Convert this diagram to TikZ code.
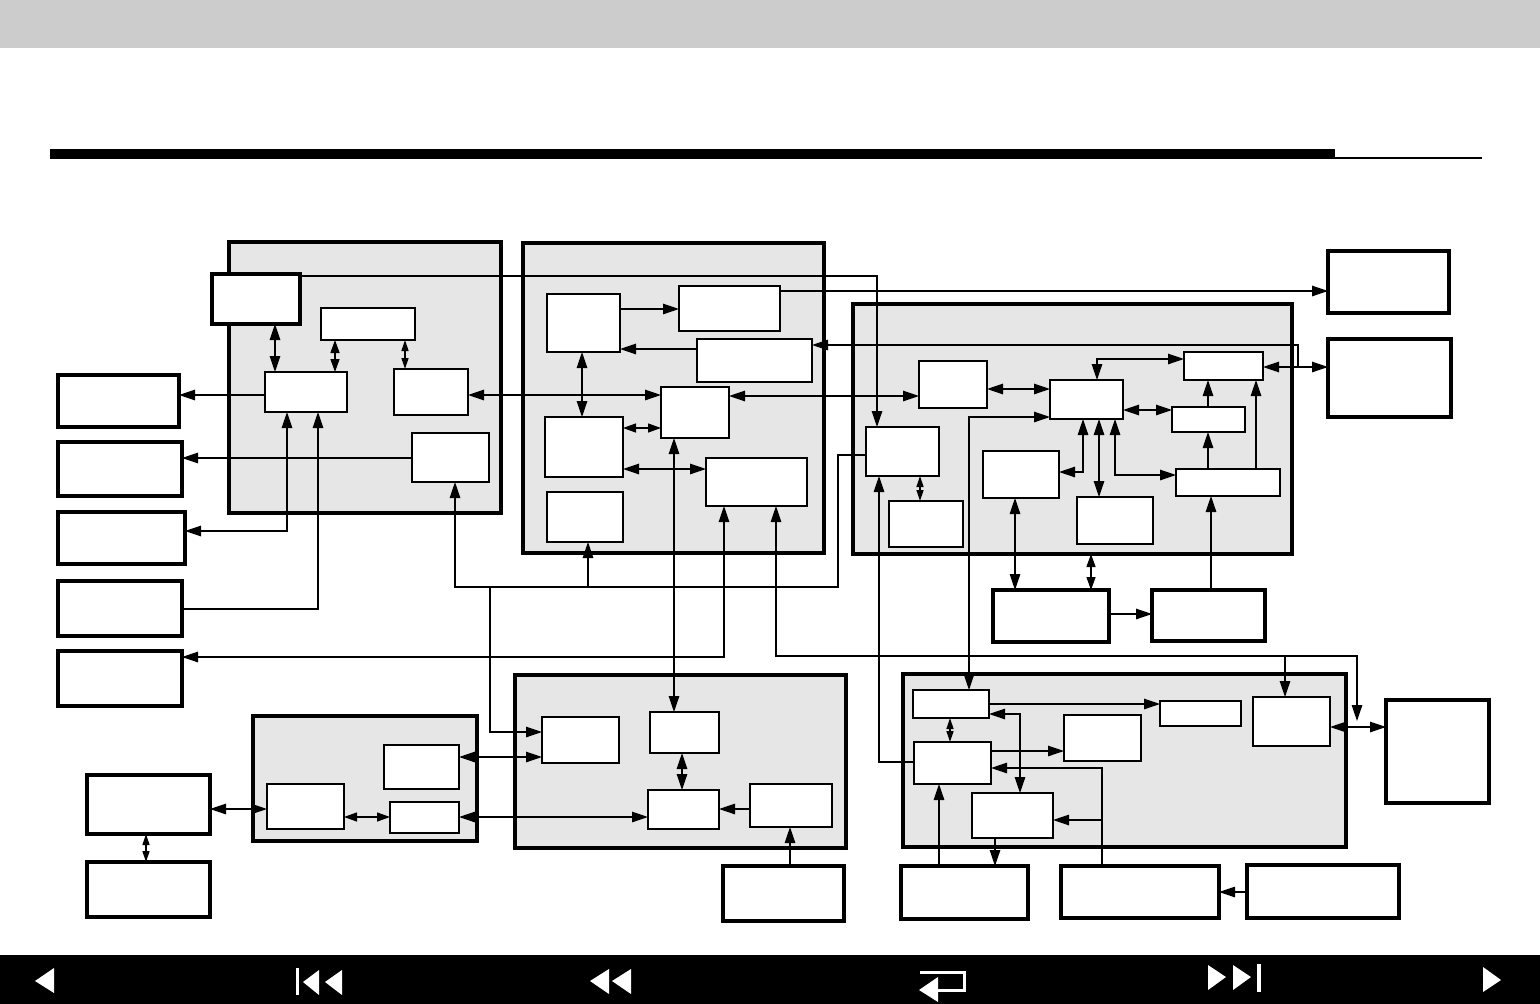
\documentclass[tikz,border=0pt]{standalone}
\usetikzlibrary{arrows.meta}
\definecolor{grp}{RGB}{230,230,230}
\definecolor{band}{RGB}{204,204,204}
\newcommand\bx[6]{\node[#1, anchor=north west, minimum width={(#5-#3)*1pt}, minimum height={(#6-#4)*1pt}] (#2) at (#3,#4) {};}
\tikzset{
  thinbox/.style={draw, fill=white, line width=1.4pt, inner sep=0pt, outer sep=0pt},
  thickbox/.style={draw, fill=white, line width=3.2pt, inner sep=0pt, outer sep=0pt},
  groupbox/.style={draw, fill=grp, line width=3.5pt, inner sep=0pt, outer sep=0pt},
  ln/.style={line width=1.3pt},
  a/.style={ln, -{Triangle[length=16pt,width=10.5pt]}},
  da/.style={ln, {Triangle[length=16pt,width=10.5pt]}-{Triangle[length=16pt,width=10.5pt]}},
  mda/.style={ln, {Triangle[length=13pt,width=9pt]}-{Triangle[length=13pt,width=9pt]}},
  sda/.style={ln, {Triangle[length=11pt,width=7pt]}-{Triangle[length=11pt,width=7pt]}},
  navicon/.style={fill=white, draw=none}
}
\begin{document}
\begin{tikzpicture}[x=1pt,y=-1pt]
\useasboundingbox (0,0) rectangle (1540,1004);
\fill[white] (0,0) rectangle (1540,1004);
% top band and title rule
\fill[band] (0,0) rectangle (1540,48);
\fill[black] (50,149) rectangle (1335,159);
\fill[black] (1335,157) rectangle (1482,159);
% bottom navigation bar
\fill[black] (0,955) rectangle (1540,1004);
\fill[navicon] (35,981) -- (54,968) -- (54,993) -- cycle;
\fill[navicon] (296,968) rectangle (299,995);
\fill[navicon] (303,982) -- (319,970) -- (319,995) -- cycle;
\fill[navicon] (325,982) -- (342,970) -- (342,995) -- cycle;
\fill[navicon] (590,981) -- (609,969) -- (609,994) -- cycle;
\fill[navicon] (612,981) -- (631,969) -- (631,994) -- cycle;
\draw[white, line width=3pt] (920,972) -- (964.5,972) -- (964.5,990) -- (936,990);
\fill[navicon] (919,990) -- (938,977) -- (938,1002) -- cycle;
\fill[navicon] (1226,977) -- (1208,965) -- (1208,990) -- cycle;
\fill[navicon] (1251,977) -- (1233,965) -- (1233,990) -- cycle;
\fill[navicon] (1257,964) rectangle (1261,992);
\fill[navicon] (1501,980) -- (1483,967) -- (1483,992) -- cycle;

% groups
\bx{groupbox}{GA}{229}{242}{501}{513}
\bx{groupbox}{GB}{523}{243}{824}{553}
\bx{groupbox}{GC}{853}{304}{1292}{554}
\bx{groupbox}{GD}{515}{675}{846}{848}
\bx{groupbox}{GK}{253}{716}{477}{841}
\bx{groupbox}{GE}{903}{674}{1346}{847}

% outer boxes
\bx{thickbox}{A1}{212}{274}{300}{324}
\bx{thickbox}{R1}{1328}{251}{1449}{313}
\bx{thickbox}{R2}{1328}{339}{1451}{417}
\bx{thickbox}{R3}{1386}{700}{1489}{803}
\bx{thickbox}{L1}{58}{375}{179}{427}
\bx{thickbox}{L2}{58}{442}{182}{496}
\bx{thickbox}{L3}{58}{512}{185}{564}
\bx{thickbox}{L4}{58}{581}{182}{636}
\bx{thickbox}{L5}{58}{651}{182}{706}
\bx{thickbox}{M1}{87}{775}{210}{834}
\bx{thickbox}{M2}{87}{862}{210}{917}
\bx{thickbox}{H1}{723}{866}{844}{921}
\bx{thickbox}{F1}{901}{866}{1028}{919}
\bx{thickbox}{F2}{1061}{866}{1219}{918}
\bx{thickbox}{F3}{1247}{865}{1399}{918}
\bx{thickbox}{G1}{993}{590}{1109}{642}
\bx{thickbox}{G2}{1152}{590}{1265}{641}

% inner boxes
\bx{thinbox}{A2}{321}{308}{415}{340}
\bx{thinbox}{A3}{265}{372}{347}{412}
\bx{thinbox}{A4}{394}{369}{468}{415}
\bx{thinbox}{A5}{412}{433}{489}{482}
\bx{thinbox}{B1}{547}{294}{620}{352}
\bx{thinbox}{B2}{679}{286}{780}{331}
\bx{thinbox}{B3}{697}{339}{812}{382}
\bx{thinbox}{B4}{661}{387}{729}{438}
\bx{thinbox}{B5}{545}{417}{623}{477}
\bx{thinbox}{B6}{706}{458}{807}{506}
\bx{thinbox}{B7}{547}{492}{623}{542}
\bx{thinbox}{C1}{919}{361}{987}{408}
\bx{thinbox}{C2}{889}{501}{963}{547}
\bx{thinbox}{C3}{866}{427}{939}{476}
\bx{thinbox}{C4}{983}{451}{1059}{498}
\bx{thinbox}{C5}{1050}{380}{1123}{419}
\bx{thinbox}{C6}{1077}{497}{1153}{544}
\bx{thinbox}{C7}{1184}{352}{1263}{380}
\bx{thinbox}{C8}{1176}{469}{1280}{496}
\bx{thinbox}{C9}{1172}{407}{1245}{432}
\bx{thinbox}{D1}{542}{717}{619}{763}
\bx{thinbox}{D2}{650}{712}{719}{753}
\bx{thinbox}{D3}{648}{790}{719}{829}
\bx{thinbox}{D4}{750}{784}{832}{827}
\bx{thinbox}{E1}{913}{690}{989}{718}
\bx{thinbox}{E2}{914}{742}{991}{784}
\bx{thinbox}{E3}{1064}{715}{1141}{761}
\bx{thinbox}{E4}{1160}{701}{1241}{726}
\bx{thinbox}{E5}{972}{793}{1053}{838}
\bx{thinbox}{E7}{1253}{697}{1330}{746}
\bx{thinbox}{K1}{267}{784}{344}{829}
\bx{thinbox}{K2}{384}{745}{459}{789}
\bx{thinbox}{K3}{390}{802}{459}{833}

% connectors: group A and left
\draw[da] (A1.south -| 275,0) -- (A3.north -| 275,0);
\draw[mda] (A2.south -| 335,0) -- (A3.north -| 335,0);
\draw[sda] (A2.south -| 405,0) -- (A4.north -| 405,0);
\draw[a] (A3.west |- 0,395) -- (L1.east |- 0,395);
\draw[da] (A4.east |- 0,395) -- (B4.west |- 0,395);
\draw[a] (A5.west |- 0,458) -- (L2.east |- 0,458);
\draw[da] (L3.east |- 0,531) -| (A3.south -| 287,0);
\draw[a] (L4.east |- 0,609) -| (A3.south -| 318,0);
% bus from C3
\draw[a] (C3.west |- 0,455) -| (838,587) -| (A5.south -| 455,0);
\draw[a] (588,587) -- (B7.south -| 588,0);
\draw[a] (490,587) |- (D1.west |- 0,732);
\draw[a] (A1.east |- 0,276) -| (C3.north -| 877,0);
% group B
\draw[a] (B1.east |- 0,309) -- (B2.west |- 0,309);
\draw[a] (B3.west |- 0,349) -- (B1.east |- 0,349);
\draw[da] (B1.south -| 582,0) -- (B5.north -| 582,0);
\draw[mda] (B5.east |- 0,428) -- (B4.west |- 0,428);
\draw[da] (B5.east |- 0,469) -- (B6.west |- 0,469);
\draw[da] (B4.east |- 0,396) -- (C1.west |- 0,396);
\draw[a] (B2.east |- 0,291) -- (R1.west |- 0,291);
\draw[da] (C7.east |- 0,367) -- (R2.west |- 0,367);
\draw[a] (1298,367) |- (B3.east |- 0,345);
\draw[da] (B4.south -| 674,0) -- (D2.north -| 674,0);
\draw[da] (B6.south -| 724,0) |- (L5.east |- 0,657);
\draw[da] (B6.south -| 776,0) |- (1357,656) -- (1357,721);
\draw[a] (1285,656) -- (E7.north -| 1285,0);
% group C
\draw[da] (C1.east |- 0,389) -- (C5.west |- 0,389);
\draw[da] (C5.north -| 1097,0) |- (C7.west |- 0,359);
\draw[da] (C5.east |- 0,410) -- (C9.west |- 0,410);
\draw[a] (C9.north -| 1208,0) -- (C7.south -| 1208,0);
\draw[a] (C8.north -| 1208,0) -- (C9.south -| 1208,0);
\draw[a] (C8.north -| 1256,0) -- (C7.south -| 1256,0);
\draw[da] (C5.south -| 1083,0) |- (C4.east |- 0,472);
\draw[da] (C5.south -| 1099,0) -- (C6.north -| 1099,0);
\draw[da] (C5.south -| 1115,0) |- (C8.west |- 0,475);
\draw[sda] (C3.south -| 920,0) -- (C2.north -| 920,0);
\draw[da] (C4.south -| 1015,0) -- (G1.north -| 1015,0);
\draw[mda] (GC.south -| 1091,0) -- (G1.north -| 1091,0);
\draw[a] (G2.north -| 1211,0) -- (C8.south -| 1211,0);
\draw[a] (G1.east |- 0,614) -- (G2.west |- 0,614);
\draw[da] (C5.west |- 0,417) -| (E1.north -| 969,0);
\draw[a] (E2.west |- 0,762) -| (C3.south -| 879,0);
% group E
\draw[a] (E1.east |- 0,704) -- (E4.west |- 0,704);
\draw[sda] (E1.south -| 950,0) -- (E2.north -| 950,0);
\draw[a] (E2.east |- 0,751) -- (E3.west |- 0,751);
\draw[da] (E1.east |- 0,714) -| (E5.north -| 1020,0);
\draw[a] (F2.north -| 1102,0) |- (E2.east |- 0,768);
\draw[a] (1102,820) -- (E5.east |- 0,820);
\draw[a] (E5.south -| 995,0) -- (F1.north -| 995,0);
\draw[a] (F1.north -| 939,0) -- (E2.south -| 939,0);
\draw[a] (F3.west |- 0,892) -- (F2.east |- 0,892);
\draw[da] (E7.east |- 0,727) -- (R3.west |- 0,727);
% group D and K
\draw[da] (K2.east |- 0,757) -- (D1.west |- 0,757);
\draw[da] (D2.south -| 682,0) -- (D3.north -| 682,0);
\draw[a] (D4.west |- 0,809) -- (D3.east |- 0,809);
\draw[a] (H1.north -| 790,0) -- (D4.south -| 790,0);
\draw[da] (K3.east |- 0,817) -- (D3.west |- 0,817);
\draw[mda] (K1.east |- 0,817) -- (K3.west |- 0,817);
\draw[da] (M1.east |- 0,809) -- (K1.west |- 0,809);
\draw[sda] (M1.south -| 146,0) -- (M2.north -| 146,0);
\end{tikzpicture}
\end{document}
